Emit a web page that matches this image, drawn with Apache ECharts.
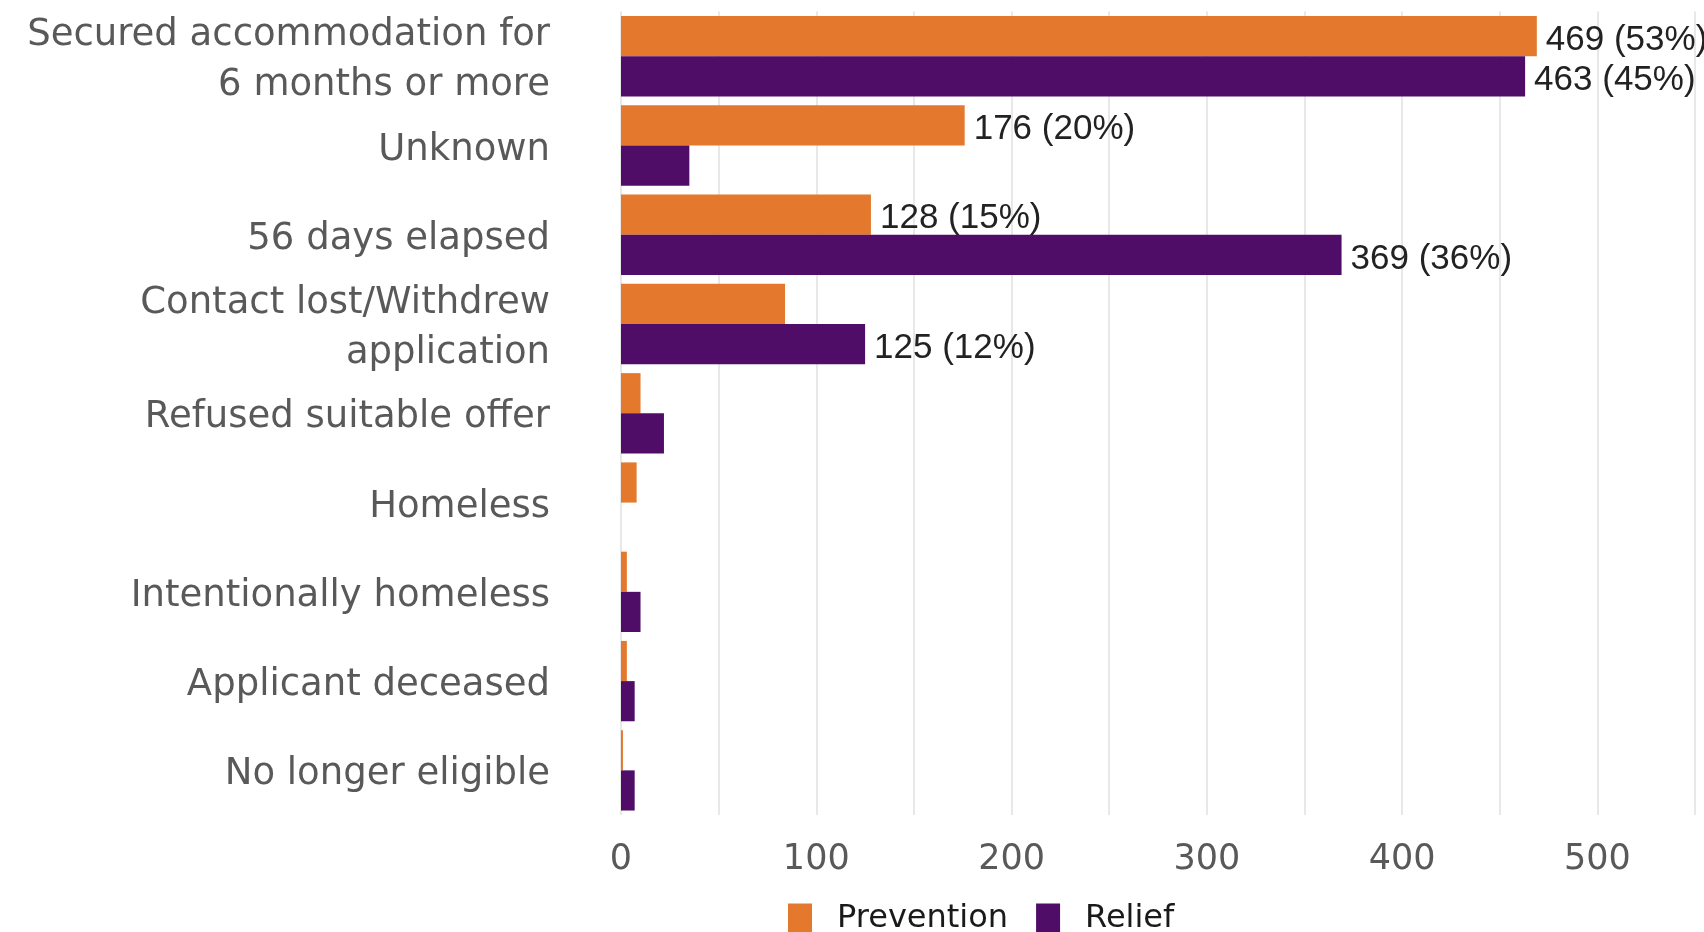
<!DOCTYPE html>
<html>
<head>
<meta charset="utf-8">
<title>Outcomes by duty type</title>
<script src="https://cdn.jsdelivr.net/npm/echarts@6/dist/echarts.min.js"></script>
<style>
  html, body { margin: 0; padding: 0; background: #ffffff; }
  #chart { width: 1704px; height: 932px; }
</style>
</head>
<body>
<div id="chart"></div>
<script>
// Outcome categories, top to bottom
const categories = [
  'Secured accommodation for\n6 months or more',
  'Unknown',
  '56 days elapsed',
  'Contact lost/Withdrew\napplication',
  'Refused suitable offer',
  'Homeless',
  'Intentionally homeless',
  'Applicant deceased',
  'No longer eligible'
];

// Number of cases per outcome
const prevention = [469, 176, 128, 84, 10, 8, 3, 3, 1];
const relief     = [463, 35, 369, 125, 22, 0, 10, 7, 7];

// Share of each duty's total, shown only for the largest outcomes
const preventionPct = [53, 20, 15, null, null, null, null, null, null];
const reliefPct     = [45, null, 36, 12, null, null, null, null, null];

// Value axis ticks
const xTicks = [0, 100, 200, 300, 400, 500];

const ORANGE = '#e4792d';
const PURPLE = '#4f0d67';

function withLabels(values, pcts) {
  return values.map((v, i) => ({
    value: v,
    label: { show: pcts[i] != null }
  }));
}

function labelText(pcts) {
  return p => pcts[p.dataIndex] != null ? p.value + ' (' + pcts[p.dataIndex] + '%)' : '';
}

const dataLabel = {
  position: 'right',
  distance: 9,
  offset: [0, 4],
  fontFamily: '"Liberation Sans", Arial, sans-serif',
  fontSize: 35,
  color: '#222222'
};

const chart = echarts.init(document.getElementById('chart'), null, { renderer: 'canvas' });

chart.setOption({
  animation: false,
  backgroundColor: '#ffffff',
  grid: { left: 621, right: 9, top: 11.6, bottom: 117, containLabel: false },
  xAxis: {
    type: 'value',
    min: 0,
    max: 550,
    interval: 50,
    axisLine: { show: false },
    axisTick: { show: false },
    splitLine: { show: true, lineStyle: { color: '#e8e8e8', width: 2 } },
    axisLabel: {
      margin: 27,
      fontFamily: '"DejaVu Sans", sans-serif',
      fontSize: 35,
      color: '#595959',
      formatter: v => xTicks.indexOf(v) >= 0 ? String(v) : ''
    }
  },
  yAxis: {
    type: 'category',
    data: categories,
    inverse: true,
    axisLine: { show: false },
    axisTick: { show: false },
    splitLine: { show: false },
    axisLabel: {
      margin: 71,
      color: '#595959',
      align: 'right',
      // each line wrapped in a rich style so it can sit a little lower in its band
      formatter: v => v.split('\n').map(s => '{t|' + s + '}').join('\n'),
      rich: {
        t: {
          fontFamily: '"DejaVu Sans", sans-serif',
          fontSize: 37,
          lineHeight: 50,
          color: '#595959',
          padding: [9, 0, 0, 0]
        }
      }
    }
  },
  legend: {
    left: 783,
    top: 898,
    itemWidth: 24,
    itemHeight: 31,
    itemGap: 28,
    icon: 'rect',
    textStyle: {
      fontFamily: '"DejaVu Sans", sans-serif',
      fontSize: 32,
      color: '#1a1a1a',
      padding: [0, 0, 0, 20]
    },
    data: ['Prevention', 'Relief']
  },
  series: [
    {
      name: 'Prevention',
      type: 'bar',
      barGap: '0%',
      barCategoryGap: '10%',
      itemStyle: { color: ORANGE },
      label: Object.assign({ formatter: labelText(preventionPct) }, dataLabel),
      data: withLabels(prevention, preventionPct)
    },
    {
      name: 'Relief',
      type: 'bar',
      barGap: '0%',
      barCategoryGap: '10%',
      itemStyle: { color: PURPLE },
      label: Object.assign({ formatter: labelText(reliefPct) }, dataLabel),
      data: withLabels(relief, reliefPct)
    }
  ]
});
</script>
</body>
</html>
